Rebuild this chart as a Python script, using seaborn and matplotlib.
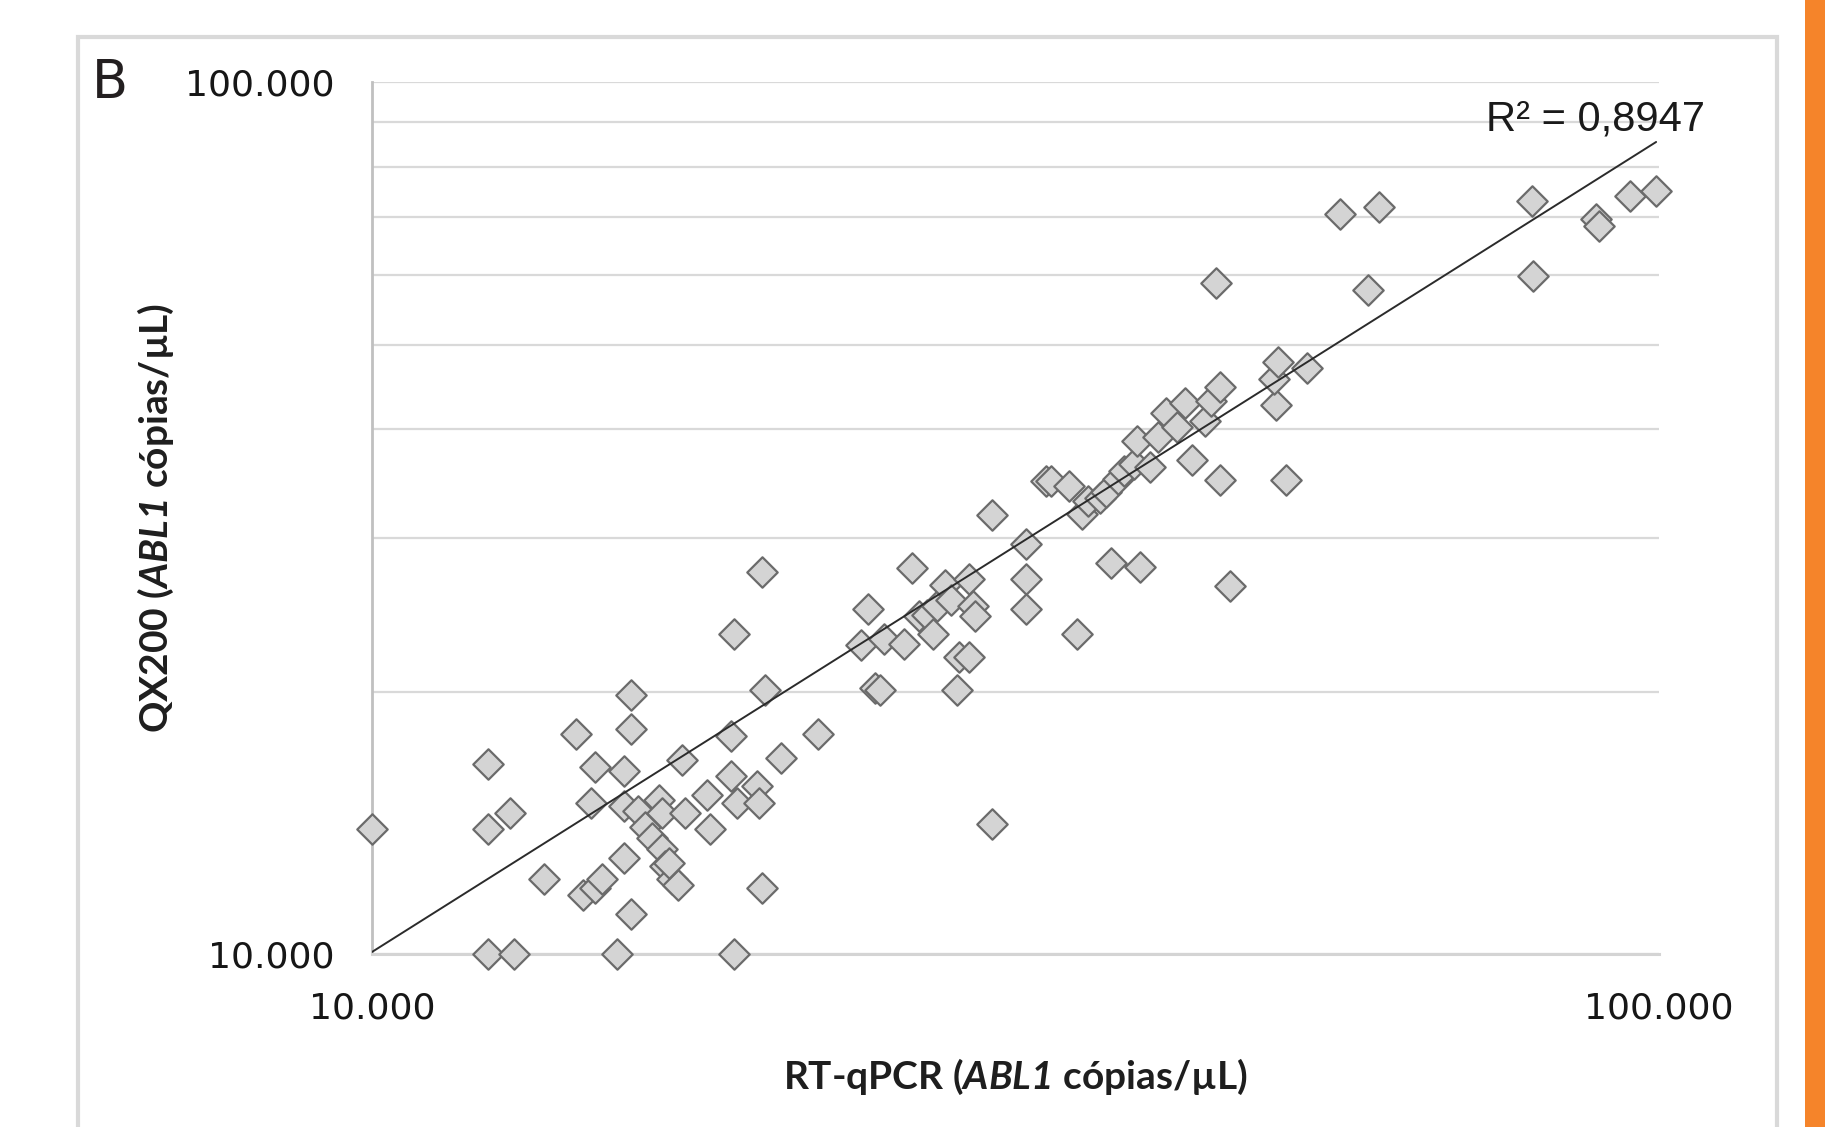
import numpy as np
import matplotlib
matplotlib.use('Agg')
import matplotlib.pyplot as plt
import seaborn as sns
from matplotlib.ticker import FixedLocator, NullLocator, NullFormatter
from matplotlib.patches import Rectangle

# RT-qPCR vs QX200, ABL1 copies/uL
rt_qpcr = [10000, 12300, 12300, 12800, 12300, 12900, 13600, 14400, 14900, 14800,
           14600, 14900, 15100, 15500, 15700, 15900, 15900, 15700, 15900, 15700,
           16100, 16300, 16500, 16700, 16800, 16800, 16900, 17100, 17300, 17400,
           17500, 17000, 18200, 18300, 19000, 19100, 19000, 19200, 19100, 19900,
           20000, 20100, 20200, 20100, 20800, 22200, 24000, 24300, 24600, 24800,
           25000, 25900, 26300, 26600, 27000, 27300, 27500, 27900, 28200, 28500,
           28600, 29100, 29100, 29300, 29400, 30300, 30300, 32200, 32200, 32200,
           33400, 33700, 34800, 35300, 35600, 36000, 36800, 37200, 37500, 38000,
           38400, 39100, 39300, 39500, 40200, 40800, 41400, 42200, 42800, 43400,
           44400, 44900, 45300, 45600, 45600, 46400, 50400, 50200, 50600, 51300,
           53300, 56500, 59400, 60600, 79700, 79800, 89400, 89900, 94900, 99500]
qx200 = [13900, 16500, 13900, 14500, 10000, 10000, 12200, 17900, 16400, 14900,
         11700, 11900, 12200, 10000, 16200, 19800, 18100, 12900, 11100, 14800,
         14600, 14000, 13600, 15000, 14500, 13200, 12600, 12200, 12000, 16700,
         14500, 12700, 15200, 13900, 17800, 23300, 16000, 14900, 10000, 15600,
         14900, 27400, 20100, 11900, 16800, 17900, 22600, 24900, 20200, 20100,
         23000, 22700, 27700, 24400, 24500, 23300, 25100, 26500, 25500, 20100,
         21900, 21900, 26900, 25100, 24400, 31900, 14100, 29500, 26900, 24900,
         34900, 34900, 34400, 23300, 32000, 33100, 33300, 33900, 28100, 35100,
         35800, 36500, 38800, 27800, 36200, 39200, 41700, 40200, 42900, 36900,
         40900, 43100, 58800, 44700, 35000, 26400, 42600, 45600, 47700, 35000,
         47000, 70500, 57700, 71800, 73100, 59900, 69600, 68300, 74000, 74900]

# power trendline y = a * x^b as drawn in the figure
trend_a = 1.898
trend_b = 0.931
r2_label = 'R² = 0,8947'

x_ticks = [10000, 100000]
x_tick_labels = ['10.000', '100.000']
y_ticks = [10000, 100000]
y_tick_labels = ['10.000', '100.000']
grid_levels = [20000, 30000, 40000, 50000, 60000, 70000, 80000, 90000]

label_fonts = ['Lato', 'DejaVu Sans']

sns.set_style('white')
plt.rcParams['font.family'] = ['DejaVu Sans']
plt.rcParams['mathtext.fontset'] = 'custom'
plt.rcParams['mathtext.rm'] = 'Lato:italic:bold'

fig = plt.figure(figsize=(18.25, 11.27), dpi=100)
ax = fig.add_axes([0.2038, 0.1535, 0.7052, 0.7737])

sns.scatterplot(x=rt_qpcr, y=qx200, marker='D', s=240, color='#d4d4d4',
                edgecolor='#6b6b6b', linewidth=1.6, ax=ax, clip_on=False, zorder=3)

xs = np.array([min(rt_qpcr), max(rt_qpcr)])
ax.plot(xs, trend_a * xs ** trend_b, color='#2b2b2b', lw=1.4, zorder=4)

ax.set_xscale('log')
ax.set_yscale('log')
ax.set_xlim(10000, 100000)
ax.set_ylim(10000, 100000)
ax.set_xticks(x_ticks, x_tick_labels)
ax.set_yticks(y_ticks, y_tick_labels)
ax.xaxis.set_minor_locator(NullLocator())
ax.yaxis.set_minor_locator(FixedLocator(grid_levels))
ax.yaxis.set_minor_formatter(NullFormatter())
ax.tick_params(which='major', length=11, width=1.5, color='#c0c0c0',
               labelsize=26, labelcolor='#161616', pad=16)
ax.tick_params(axis='y', which='minor', length=0)
ax.set_axisbelow(True)
ax.yaxis.grid(True, which='both', color='#d9d9d9', lw=1.6)
ax.xaxis.grid(False)

for side in ['top', 'right']:
    ax.spines[side].set_visible(False)
ax.spines['left'].set_color('#c0c0c0')
ax.spines['left'].set_linewidth(2)
ax.spines['bottom'].set_color('#d4d4d4')
ax.spines['bottom'].set_linewidth(2.2)

ax.set_xlabel('RT-qPCR ($\\mathrm{ABL1}$ cópias/µL)', family=label_fonts,
              fontsize=28, fontweight='bold', color='#1e1e1e')
ax.xaxis.set_label_coords(0.5, -0.118)
ax.set_ylabel('QX200 ($\\mathrm{ABL1}$ cópias/µL)', family=label_fonts,
              fontsize=28, fontweight='bold', color='#1e1e1e')
ax.yaxis.set_label_coords(-0.152, 0.5)

ax.text(1.036, 0.945, r2_label, transform=ax.transAxes, ha='right', va='baseline',
        fontsize=30, family='Liberation Sans', color='#1a1a1a')

fig.text(0.0505, 0.913, 'B', fontsize=38, color='#231f20', va='baseline')

fig.add_artist(Rectangle((0.0427, -0.05), 0.931, 1.0172, transform=fig.transFigure,
                         fill=False, ec='#d9d9d9', lw=3))
fig.add_artist(Rectangle((0.989, 0), 0.011, 1, transform=fig.transFigure,
                         fc='#f5842a', ec='none'))

fig.savefig('out.png', dpi=100)
